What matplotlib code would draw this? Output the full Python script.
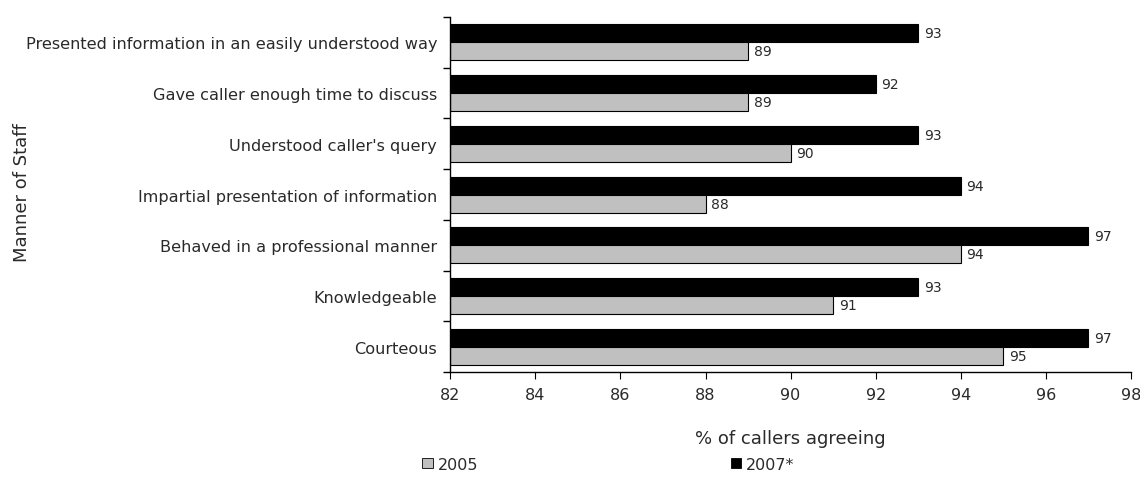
import matplotlib.pyplot as plt
import numpy as np
from matplotlib.patches import Patch

categories = [
    "Presented information in an easily understood way",
    "Gave caller enough time to discuss",
    "Understood caller's query",
    "Impartial presentation of information",
    "Behaved in a professional manner",
    "Knowledgeable",
    "Courteous",
]
vals_2005 = [89, 89, 90, 88, 94, 91, 95]
vals_2007 = [93, 92, 93, 94, 97, 93, 97]

plt.rcParams['font.family'] = ['DejaVu Sans']
txt = '#2a2a2a'

fig = plt.figure(figsize=(11.4, 4.81), dpi=100)
ax = fig.add_axes([0.395, 0.2245, 0.597, 0.738])

n = len(categories)
y = np.arange(n)[::-1]
h = 0.355
x0 = 82

b07 = ax.barh(y + h / 2, np.array(vals_2007) - x0, left=x0, height=h,
              color='black', edgecolor='black', linewidth=0.8)
b05 = ax.barh(y - h / 2, np.array(vals_2005) - x0, left=x0, height=h,
              color='#c0c0c0', edgecolor='black', linewidth=0.8)

for bars, vals in ((b07, vals_2007), (b05, vals_2005)):
    for bar, v in zip(bars, vals):
        ax.annotate(f'{v}', xy=(v, bar.get_y() + bar.get_height() / 2),
                    xytext=(4, 0), textcoords='offset points',
                    ha='left', va='center', fontsize=10, color=txt)

ax.set_xlim(82, 98)
ax.set_xticks(np.arange(82, 99, 2))
ax.set_ylim(-0.5, n - 0.5)

# category labels centred, ticks at group boundaries
ax.set_yticks(y)
ax.set_yticklabels(categories, fontsize=11.6, color=txt)
ax.set_yticks(np.arange(-0.5, n, 1), minor=True)
ax.tick_params(axis='y', which='major', length=0, pad=9.4)
ax.tick_params(axis='y', which='minor', length=5, direction='out', width=1)
ax.tick_params(axis='x', length=5, direction='out', labelsize=11.5,
               labelcolor=txt, pad=6)

for s in ('top', 'right'):
    ax.spines[s].set_visible(False)
ax.spines['left'].set_linewidth(1)
ax.spines['bottom'].set_linewidth(1)

ax.set_xlabel('% of callers agreeing', fontsize=13, color=txt, labelpad=19)
fig.text(0.0195, 0.599, 'Manner of Staff', rotation=90, ha='center', va='center',
         fontsize=13, color=txt)

handles = [Patch(facecolor='#c0c0c0', edgecolor='black', linewidth=0.6),
           Patch(facecolor='black', edgecolor='black', linewidth=0.6)]
fig.legend(handles, ['2005', '2007*'], ncol=2, frameon=False,
           loc='center left', bbox_to_anchor=(0.358, 0.033),
           fontsize=11.5, handlelength=0.65, handleheight=0.65,
           handletextpad=0.3, columnspacing=15.8, labelcolor=txt)

fig.savefig('out.png', dpi=100)
